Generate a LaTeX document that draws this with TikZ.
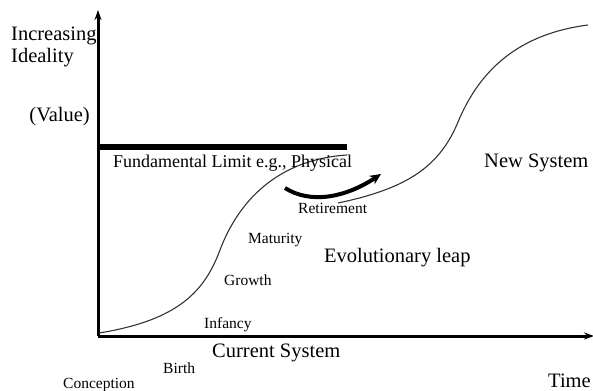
\documentclass[tikz,border=0pt]{standalone}
\usepackage{fontspec}
\setmainfont{Liberation Serif}
\usetikzlibrary{arrows.meta}
\tikzset{
  lbl/.style={inner sep=0pt, anchor=base west},
  big/.style={lbl, font=\fontsize{20.5}{22}\selectfont},
  mid/.style={lbl, font=\fontsize{18}{20}\selectfont},
  small/.style={lbl, font=\fontsize{15.5}{17}\selectfont},
  axis/.style={line width=3pt, -{Stealth[length=10pt,width=7pt]}},
  scurve/.style={line width=1.1pt, black!80},
}
\begin{document}
\begin{tikzpicture}[x=1pt,y=-1pt]
\useasboundingbox (0,0) rectangle (593,390);
% axes
\coordinate (O) at (98,336);
\coordinate (ytop) at (98,10);
\coordinate (xend) at (594,336);
\draw[axis] (O) -- (ytop);
\draw[axis] (O) -- (xend);
% fundamental limit
\coordinate (limA) at (98,147);
\coordinate (limB) at (347,147);
\draw[line width=5pt] (limA) -- (limB);
% curves
\coordinate (c1s) at (99,333);
\coordinate (c1m) at (220,250);
\coordinate (c1e) at (347,155);
\draw[scurve] (c1s) .. controls (180,320) and (205,290) .. (c1m)
  .. controls (235,210) and (270,160) .. (c1e);
\coordinate (c2s) at (338,203);
\coordinate (c2m) at (458,122);
\coordinate (c2e) at (588,25);
\draw[scurve] (c2s) .. controls (410,188) and (440,165) .. (c2m)
  .. controls (476,79) and (510,35) .. (c2e);
% leap arrow
\coordinate (leapA) at (285,188);
\coordinate (leapB) at (381,174);
\draw[line width=4pt, -{Stealth[length=11pt,width=10pt]}] (leapA) .. controls (310,204) and (345,198) .. (leapB);
% texts
\node[big] (inc) at (11,41) {Increasing};
\node[big] (ide) at (11,62.5) {Ideality};
\node[big, anchor=base east] (val) at (90,122) {(Value)};
\node[mid] (fund) at (113,167) {Fundamental Limit e.g., Physical};
\node[big] (new) at (484,167) {New System};
\node[small] (ret) at (298,213) {Retirement};
\node[small] (mat) at (248,243) {Maturity};
\node[big] (evo) at (324,262) {Evolutionary leap};
\node[small] (gro) at (224,285) {Growth};
\node[small] (inf) at (204,328) {Infancy};
\node[big] (cur) at (212,357) {Current System};
\node[small] (bir) at (163,373) {Birth};
\node[small] (con) at (63,388) {Conception};
\node[big] (time) at (548,387) {Time};
\end{tikzpicture}
\end{document}
